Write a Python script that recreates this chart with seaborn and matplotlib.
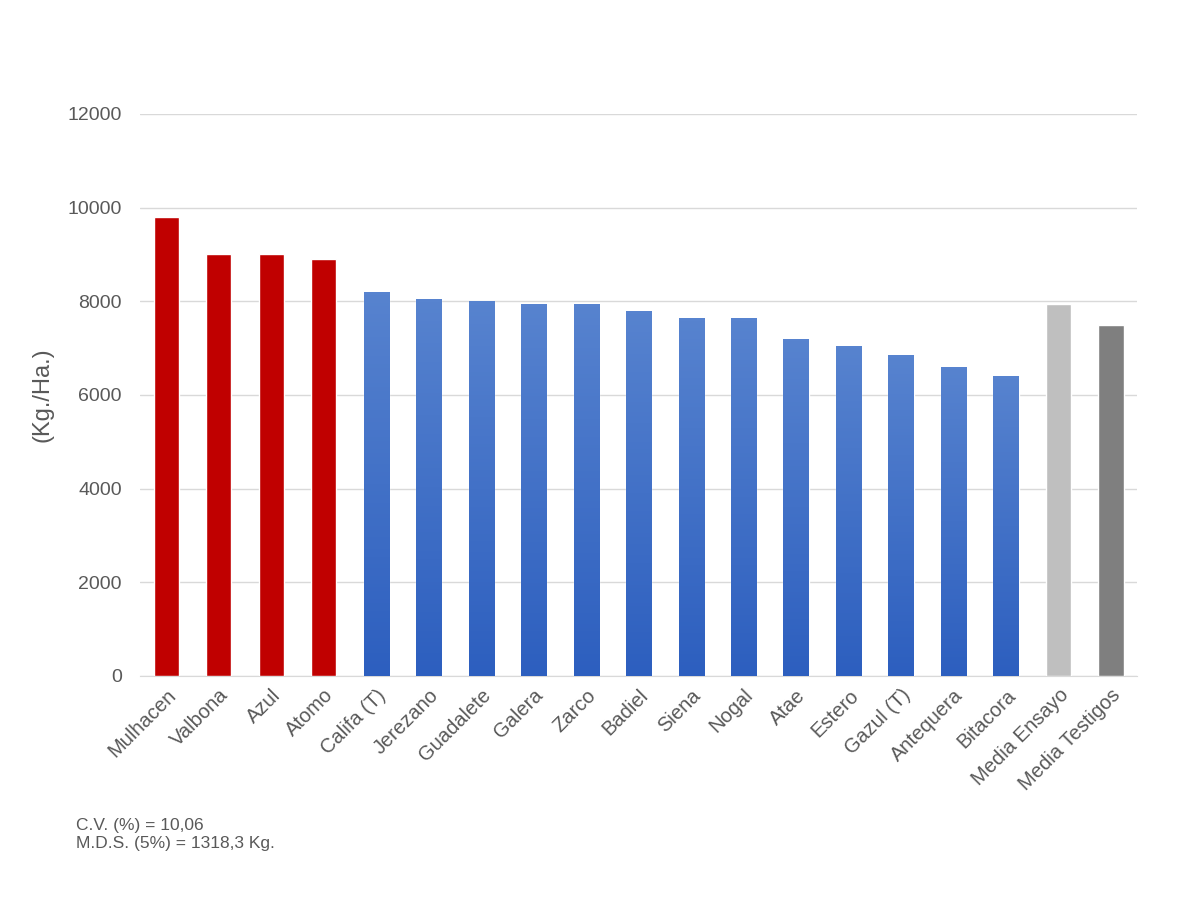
import numpy as np
import pandas as pd
import matplotlib
matplotlib.use('Agg')
import matplotlib.pyplot as plt
import seaborn as sns
from matplotlib.colors import LinearSegmentedColormap

# data
variedades = ['Mulhacen', 'Valbona', 'Azul', 'Atomo', 'Califa (T)', 'Jerezano',
              'Guadalete', 'Galera', 'Zarco', 'Badiel', 'Siena', 'Nogal', 'Atae',
              'Estero', 'Gazul (T)', 'Antequera', 'Bitacora', 'Media Ensayo',
              'Media Testigos']
rendimiento = [9800, 9000, 9000, 8900, 8200, 8050, 8000, 7950, 7950, 7800,
               7650, 7650, 7200, 7050, 6850, 6600, 6400, 7950, 7500]
grupo = ['rojo'] * 4 + ['azul'] * 13 + ['ensayo', 'testigos']

colores = {'rojo': '#C00000', 'azul': '#3D6CC6',
           'ensayo': '#BFBFBF', 'testigos': '#7F7F7F'}

df = pd.DataFrame({'variedad': variedades, 'kg': rendimiento, 'grupo': grupo})

sns.set_style('white')
plt.rcParams['font.family'] = ['Liberation Sans', 'DejaVu Sans']

fig = plt.figure(figsize=(12, 9), dpi=100)
ax = fig.add_axes([0.1167, 0.249, 0.831, 0.6245])

palette = [colores[g] for g in grupo]
sns.barplot(data=df, x='variedad', y='kg', hue='variedad', palette=palette,
            legend=False, width=0.48, saturation=1, ax=ax, zorder=3)

# gradient fill on the blue bars (lighter top, darker bottom)
grad = LinearSegmentedColormap.from_list('g', ['#2D5FBF', '#5783CF'])
for patch, g in zip(ax.patches, grupo):
    if g != 'azul':
        continue
    x0, y0 = patch.get_x(), patch.get_y()
    w, h = patch.get_width(), patch.get_height()
    im = ax.imshow(np.linspace(0, 1, 100).reshape(-1, 1), cmap=grad,
                   origin='lower', aspect='auto',
                   extent=[x0, x0 + w, y0, y0 + h], zorder=4)
    im.set_clip_path(patch)

ax.set_xlim(-0.5, len(variedades) - 0.5)
ax.set_ylim(0, 12000)
ax.set_yticks(range(0, 12001, 2000))
ax.yaxis.grid(True, color='#D9D9D9', linewidth=1)
ax.set_axisbelow(True)
for s in ['top', 'right', 'left']:
    ax.spines[s].set_visible(False)
ax.spines['bottom'].set_color('#D9D9D9')

ax.tick_params(axis='y', labelsize=14, labelcolor='#595959', length=0, pad=13)
ax.tick_params(axis='x', labelsize=14.5, labelcolor='#595959', length=0, pad=7)
plt.setp(ax.get_xticklabels(), rotation=45, ha='right', rotation_mode='anchor')

ax.set_xlabel('')
ax.set_ylabel('(Kg./Ha.)', fontsize=17, color='#595959', labelpad=10)

fig.text(0.063, 0.091, 'C.V. (%) = 10,06\nM.D.S. (5%) = 1318,3 Kg.',
         fontsize=12.5, color='#595959', va='top', linespacing=1.25)

fig.savefig('out.png', dpi=100, facecolor='white')
